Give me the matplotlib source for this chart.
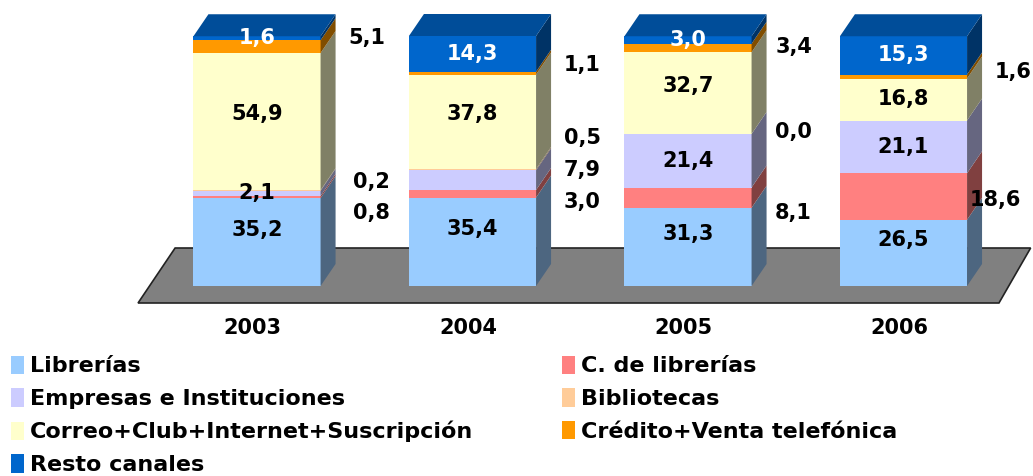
import numpy as np
import matplotlib.pyplot as plt
from matplotlib.patches import Polygon, Patch
from matplotlib.colors import to_rgb

# datos (% de ventas por canal)
years = ['2003', '2004', '2005', '2006']
series = ['Librerías', 'C. de librerías', 'Empresas e Instituciones', 'Bibliotecas',
          'Correo+Club+Internet+Suscripción', 'Crédito+Venta telefónica', 'Resto canales']
librerias = [35.2, 35.4, 31.3, 26.5]
c_librerias = [0.8, 3.0, 8.1, 18.6]
empresas = [2.1, 7.9, 21.4, 21.1]
bibliotecas = [0.2, 0.5, 0.0, 0.0]
correo = [54.9, 37.8, 32.7, 16.8]
credito = [5.1, 1.1, 3.4, 1.6]
resto = [1.6, 14.3, 3.0, 15.3]
values = [librerias, c_librerias, empresas, bibliotecas, correo, credito, resto]

colors = ['#99CCFF', '#FF8080', '#CCCCFF', '#FFCC99', '#FFFFCC', '#FF9900', '#0066CC']

# etiquetas fuera de la barra: (serie, año) -> (desplazamiento x, altura en %)
outside = {
    (5, 0): (0.51, 99.2), (3, 0): (0.53, 41.6), (1, 0): (0.53, 29.2),
    (5, 1): (0.51, 88.4), (3, 1): (0.51, 59.2), (2, 1): (0.51, 46.4), (1, 1): (0.51, 33.6),
    (5, 2): (0.49, 95.6), (3, 2): (0.49, 61.6), (1, 2): (0.49, 29.2),
    (5, 3): (0.51, 85.6), (1, 3): (0.425, 34.4),
}
hidden = {(3, 3)}

fig = plt.figure(figsize=(10.33, 4.76), dpi=100)
ax = fig.add_axes([0, 0, 1, 1])
ax.set_xlim(-1.1926, 3.601)
ax.set_ylim(-76, 114.4)
ax.axis('off')

w = 0.295   # media anchura
dx = 0.0696  # profundidad
dy = 8.8

def shade(c, f):
    r, g, b = to_rgb(c)
    return (r * f, g * f, b * f)

# suelo
floor = Polygon([(-0.552, -6.8), (3.443, -6.8), (3.59, 15.2), (-0.38, 15.2)],
                closed=True, facecolor='#808080', edgecolor='#222222', lw=1.2, zorder=1)
ax.add_patch(floor)

lab_font = dict(fontsize=15, fontweight='bold', family='DejaVu Sans')

for j, yr in enumerate(years):
    x0, x1 = j - w, j + w
    bottom = 0.0
    top_color = None
    for i, vals in enumerate(values):
        v = vals[j]
        if v > 0:
            y0, y1 = bottom, bottom + v
            ax.add_patch(Polygon([(x0, y0), (x1, y0), (x1, y1), (x0, y1)],
                                 facecolor=colors[i], edgecolor='none', zorder=2))
            ax.add_patch(Polygon([(x1, y0), (x1 + dx, y0 + dy), (x1 + dx, y1 + dy), (x1, y1)],
                                 facecolor=shade(colors[i], 0.5), edgecolor='none', zorder=2))
            top_color = colors[i]
        txt = f'{v:.1f}'.replace('.', ',')
        if (i, j) in outside:
            ox, oy = outside[(i, j)]
            ax.text(j + ox, oy, txt, ha='center', va='center', color='black',
                    zorder=5, **lab_font)
        elif (i, j) not in hidden:
            off = 5 if i == 0 else (3 if v > 30 else 0)
            ax.text(j, bottom + v / 2 + off, txt, ha='center', va='center',
                    color='white' if i == 6 else 'black', zorder=5, **lab_font)
        bottom += v
    ax.add_patch(Polygon([(x0, bottom), (x1, bottom), (x1 + dx, bottom + dy), (x0 + dx, bottom + dy)],
                         facecolor=shade(top_color, 0.75), edgecolor='none', zorder=2))
    ax.text(j - 0.02, -16.8, yr, ha='center', va='center', fontsize=15,
            fontweight='bold', family='DejaVu Sans')

# leyenda (dos columnas, orden por filas)
order = [0, 2, 4, 6, 1, 3, 5]
handles = [Patch(facecolor=colors[k], edgecolor='none', label=series[k]) for k in order]
fig.legend(handles=handles, ncol=2, loc='upper left', bbox_to_anchor=(0.004, 0.267),
           frameon=False, prop=dict(size=16, weight='bold', family='DejaVu Sans'),
           handlelength=0.6, handleheight=0.9, handletextpad=0.25,
           labelspacing=0.53, columnspacing=4.0, borderaxespad=0.2, borderpad=0.1)

plt.savefig('out.png', dpi=100)
